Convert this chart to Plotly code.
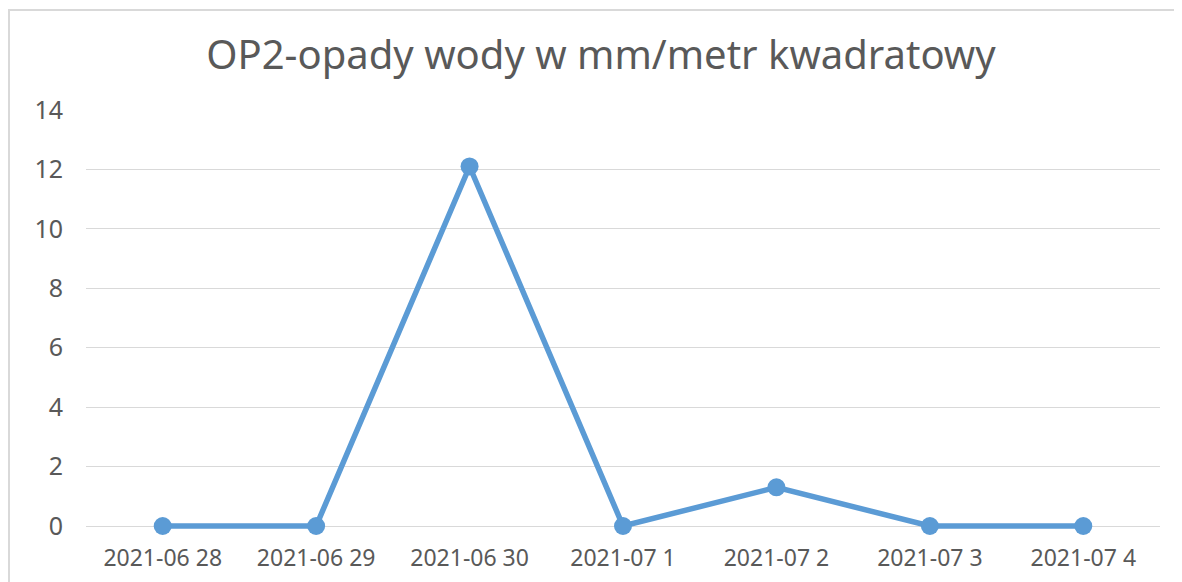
import plotly.graph_objects as go

categories = ["2021-06 28", "2021-06 29", "2021-06 30", "2021-07 1", "2021-07 2", "2021-07 3", "2021-07 4"]
values = [0, 0, 12.1, 0, 1.3, 0, 0]
y_ticks = [0, 2, 4, 6, 8, 10, 12, 14]
title_text = "OP2-opady wody w mm/metr kwadratowy"

# page is offset by 8px body margin
L, T, R, B = 78, 102, 30, 58
W, H = 1182, 582
pw = W - L - R
ph = H - T - B
unit = 416 / 14.0          # pixels per y unit
y_low = -(64 - B) / unit   # small pad below zero so the zero-line isn't clipped

fig = go.Figure()
fig.add_trace(go.Scatter(
    x=categories, y=values, mode="lines+markers",
    line=dict(color="#5B9BD5", width=5.5),
    marker=dict(color="#5B9BD5", size=18),
    cliponaxis=False,
    hoverinfo="x+y",
))

fig.update_layout(
    width=W, height=H,
    margin=dict(l=L, r=R, t=T, b=B),
    paper_bgcolor="white", plot_bgcolor="white",
    showlegend=False,
    font=dict(family="Noto Sans", color="#595959"),
    title=dict(text=title_text, x=593 / W, xanchor="center", y=1 - 47 / H, yanchor="middle",
               font=dict(family="Noto Sans", size=40, color="#595959")),
    xaxis=dict(type="category", range=[-0.5, 6.5], showgrid=False, zeroline=False,
               showline=False, ticks="", tickfont=dict(size=23, color="#595959"),
               ticklabelstandoff=10),
    yaxis=dict(range=[y_low, 14], tickvals=y_ticks, showgrid=True, gridcolor="#d9d9d9",
               gridwidth=1, zeroline=False, showline=False, ticks="",
               tickfont=dict(size=25, color="#595959"), ticklabelstandoff=22),
    shapes=[dict(type="rect", xref="paper", yref="paper",
                 x0=(1 - L) / pw, x1=1.2, y0=-0.5, y1=(ph + T - 2) / ph,
                 line=dict(color="#d9d9d9", width=2), fillcolor="rgba(0,0,0,0)", layer="below")],
)

fig.write_html("out.html")
